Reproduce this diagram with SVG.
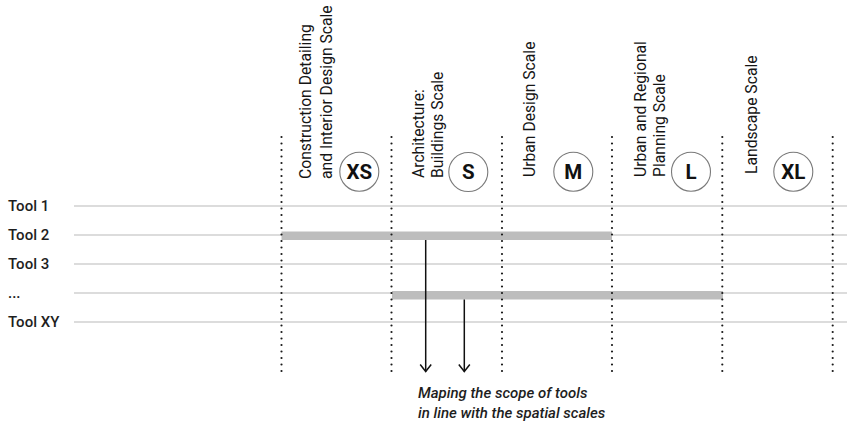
<svg xmlns="http://www.w3.org/2000/svg" width="847" height="424" viewBox="0 0 847 424">
  <style>
    .row { stroke: #dcdcdc; stroke-width: 2; fill: none; }
    .bar { fill: #bdbdbd; }
    .div { stroke: #1a1a1a; stroke-width: 2.2; stroke-linecap: round; stroke-dasharray: 0 6.5; fill: none; }
    .tool { font-family: Roboto, "Liberation Sans", sans-serif; font-size: 15px; font-weight: 500; fill: #1e1e1e; }
    .scale { font-family: Roboto, "Liberation Sans", sans-serif; font-size: 15.7px; font-weight: 400; fill: #151515; }
    .ring { fill: #ffffff; stroke: #7a7a7a; stroke-width: 1.1; }
    .size { font-family: Roboto, "Liberation Sans", sans-serif; font-size: 20.5px; font-weight: 700; fill: #111; text-anchor: middle; }
    .arrow { stroke: #111; stroke-width: 1.5; fill: none; marker-end: url(#head); }
    .note { font-family: Roboto, "Liberation Sans", sans-serif; font-size: 15px; font-weight: 500; font-style: italic; fill: #1e1e1e; }
  </style>
  <defs>
    <marker id="head" markerUnits="userSpaceOnUse" markerWidth="20" markerHeight="20" viewBox="-10 -10 20 20" refX="0" refY="0" orient="auto" overflow="visible">
      <path d="M -7 -5.5 L 0 0 L -7 5.5" fill="none" stroke="#111" stroke-width="1.5"/>
    </marker>
  </defs>

  <!-- tool rows -->
  <g id="tool-1">
    <line class="row" x1="74" y1="206" x2="847" y2="206"/>
    <text class="tool" x="8" y="211">Tool 1</text>
  </g>
  <g id="tool-2">
    <line class="row" x1="74" y1="235" x2="847" y2="235"/>
    <text class="tool" x="8" y="240">Tool 2</text>
  </g>
  <g id="tool-3">
    <line class="row" x1="74" y1="264" x2="847" y2="264"/>
    <text class="tool" x="8" y="269">Tool 3</text>
  </g>
  <g id="tool-more">
    <line class="row" x1="74" y1="293" x2="847" y2="293"/>
    <text class="tool" x="8" y="298">...</text>
  </g>
  <g id="tool-xy">
    <line class="row" x1="74" y1="322" x2="847" y2="322"/>
    <text class="tool" x="8" y="327">Tool XY</text>
  </g>

  <!-- scope bars -->
  <g id="scope-bars">
    <rect class="bar" x="281.5" y="231.5" width="330.5" height="8.5"/>
    <rect class="bar" x="392" y="291" width="331" height="8.5"/>
  </g>

  <!-- scale dividers -->
  <g id="dividers">
    <line class="div" x1="281.5" y1="137" x2="281.5" y2="377.5"/>
    <line class="div" x1="391.5" y1="137" x2="391.5" y2="377.5"/>
    <line class="div" x1="502" y1="137" x2="502" y2="377.5"/>
    <line class="div" x1="612" y1="137" x2="612" y2="377.5"/>
    <line class="div" x1="722.3" y1="137" x2="722.3" y2="377.5"/>
    <line class="div" x1="832.7" y1="137" x2="832.7" y2="377.5"/>
  </g>

  <!-- scale columns -->
  <g id="scale-xs">
    <text class="scale" transform="translate(311,179) rotate(-90)">Construction Detailing</text>
    <text class="scale" transform="translate(331.5,179) rotate(-90)">and Interior Design Scale</text>
    <circle class="ring" cx="359.3" cy="171.7" r="19.5"/>
    <text class="size" x="359.3" y="179">XS</text>
  </g>
  <g id="scale-s">
    <text class="scale" transform="translate(424,178) rotate(-90)">Architecture:</text>
    <text class="scale" transform="translate(443,178) rotate(-90)">Buildings Scale</text>
    <circle class="ring" cx="468.3" cy="172" r="19.5"/>
    <text class="size" x="468.3" y="179.3">S</text>
  </g>
  <g id="scale-m">
    <text class="scale" transform="translate(535,177) rotate(-90)">Urban Design Scale</text>
    <circle class="ring" cx="573.3" cy="171.7" r="19.5"/>
    <text class="size" x="573.3" y="179">M</text>
  </g>
  <g id="scale-l">
    <text class="scale" transform="translate(646,177) rotate(-90)">Urban and Regional</text>
    <text class="scale" transform="translate(665,177) rotate(-90)">Planning Scale</text>
    <circle class="ring" cx="691" cy="171.7" r="19.5"/>
    <text class="size" x="691" y="179">L</text>
  </g>
  <g id="scale-xl">
    <text class="scale" transform="translate(757,174) rotate(-90)">Landscape Scale</text>
    <circle class="ring" cx="793.3" cy="171.7" r="19.5"/>
    <text class="size" x="793.3" y="179">XL</text>
  </g>

  <!-- connectors -->
  <g id="connectors">
    <line class="arrow" x1="425.7" y1="240" x2="425.7" y2="371.5"/>
    <line class="arrow" x1="464.3" y1="299.5" x2="464.3" y2="371.5"/>
  </g>

  <g id="caption">
    <text class="note" x="418" y="397.5">Maping the scope of tools</text>
    <text class="note" x="418" y="417.5">in line with the spatial scales</text>
  </g>
</svg>
